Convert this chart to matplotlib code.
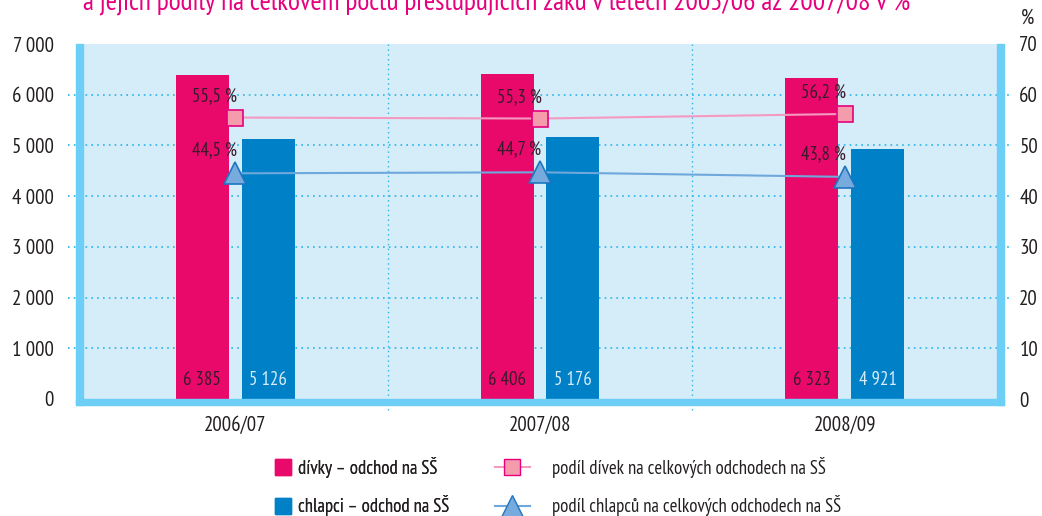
import matplotlib
matplotlib.use("Agg")
import matplotlib.pyplot as plt
from matplotlib.lines import Line2D
from matplotlib.patches import Rectangle

plt.rcParams['font.family'] = ['PT Sans Narrow', 'DejaVu Sans']

years = ["2006/07", "2007/08", "2008/09"]
divky = [6385, 6406, 6323]
chlapci = [5126, 5176, 4921]
podil_divky = [55.5, 55.3, 56.2]
podil_chlapci = [44.5, 44.7, 43.8]

pink = "#e8096b"
blue = "#0080c6"
bg = "#d5ecf9"
frame = "#6dcff6"
grid = "#29b6e8"
txt = "#231f20"


def cz(v):
    return f"{v:,}".replace(",", " ")


fig = plt.figure(figsize=(10.42, 5.16), dpi=100)
ax = fig.add_axes([83 / 1042, 1 - 399 / 516, 914 / 1042, 355 / 516])
ax.set_facecolor(bg)
for s in ax.spines.values():
    s.set_visible(False)

x = list(range(len(years)))
w = 0.174
off = 0.108
ax.bar([i - off for i in x], divky, w, color=pink, zorder=2)
ax.bar([i + off for i in x], chlapci, w, color=blue, zorder=2)
for i in x:
    ax.text(i - off, 370, cz(divky[i]), ha="center", va="center",
            fontsize=13.5, color="#3a1a2a", zorder=3)
    ax.text(i + off, 370, cz(chlapci[i]), ha="center", va="center",
            fontsize=13.5, color="#d8ecf9", zorder=3)

ax.set_ylim(0, 7000)
ax.set_xlim(-0.5, 2.5)
ax.set_yticks(range(0, 7001, 1000))
ax.set_yticklabels([cz(v) for v in range(0, 7001, 1000)])
ax.set_xticks(x)
ax.set_xticklabels(years)
ax.tick_params(axis="y", length=0, pad=21, labelsize=15, colors=txt)
ax.tick_params(axis="x", length=0, pad=12, labelsize=15, colors=txt)

for v in range(1000, 7000, 1000):
    ax.axhline(v, xmin=-0.016, xmax=1.017, color=grid, lw=1.2, ls=(0, (1, 2.5)),
               clip_on=False, zorder=1)
for v in [0.5, 1.5]:
    ax.axvline(v, ymin=-0.03, ymax=1, color=grid, lw=1.0, ls=(0, (1, 2.5)),
               clip_on=False, zorder=1)

# light blue frame (left, right, bottom)
ax.add_patch(Rectangle((-0.0077, -0.018), 0.0077, 1.018, transform=ax.transAxes,
                       color=frame, clip_on=False, zorder=4))
ax.add_patch(Rectangle((1.0, -0.018), 0.0077, 1.018, transform=ax.transAxes,
                       color=frame, clip_on=False, zorder=4))
ax.add_patch(Rectangle((-0.0077, -0.018), 1.0154, 0.018, transform=ax.transAxes,
                       color=frame, clip_on=False, zorder=4))

ax2 = ax.twinx()
for s in ax2.spines.values():
    s.set_visible(False)
ax2.set_ylim(0, 70)
ax2.set_yticks(range(0, 71, 10))
ax2.tick_params(axis="y", length=0, pad=16, labelsize=15, colors=txt)
ax2.plot(x, podil_divky, color="#f49ac1", lw=1.5, marker="s", markersize=12,
         markerfacecolor="#f59cac", markeredgecolor="#e6007e", markeredgewidth=1.2, zorder=5)
ax2.plot(x, podil_chlapci, color="#6fa8dc", lw=1.5, marker="^", markersize=16,
         markerfacecolor="#77aadd", markeredgecolor="#1f75c0", markeredgewidth=1.2, zorder=5)
for i in x:
    ax2.annotate(f"{podil_divky[i]:.1f} %".replace(".", ","), (i, podil_divky[i]),
                 xytext=(1, 9), textcoords="offset points", ha="right", va="bottom",
                 fontsize=13.5, color="#3a1a2a")
    ax2.annotate(f"{podil_chlapci[i]:.1f} %".replace(".", ","), (i, podil_chlapci[i]),
                 xytext=(1, 10), textcoords="offset points", ha="right", va="bottom",
                 fontsize=13.5, color="#3a1a2a")

fig.text(1027 / 1042, 1 - 18 / 516, "%", ha="center", va="center", fontsize=15, color=txt)
fig.text(497 / 1042, 1 - 10 / 516,
         "a jejich podíly na celkovém počtu přestupujících žáků v letech 2005/06 až 2007/08 v %",
         ha="center", va="baseline", fontsize=19.8, color="#e6007e")

h1 = [Line2D([], [], ls="none", marker="s", markersize=12, color=pink),
      Line2D([], [], ls="none", marker="s", markersize=12, color=blue)]
leg1 = fig.legend(h1, ["dívky – odchod na SŠ", "chlapci – odchod na SŠ"],
                  loc="upper left", bbox_to_anchor=(274 / 1042, 1 - 457 / 516),
                  frameon=False, fontsize=13.5, handlelength=1.0, handletextpad=0.3,
                  borderpad=0, borderaxespad=0, labelspacing=0.92, labelcolor=txt)
h2 = [Line2D([], [], color="#f49ac1", lw=1.5, marker="s", markersize=12,
             markerfacecolor="#f59cac", markeredgecolor="#e6007e"),
      Line2D([], [], color="#6fa8dc", lw=1.5, marker="^", markersize=16,
             markerfacecolor="#77aadd", markeredgecolor="#1f75c0")]
fig.legend(h2, ["podíl dívek na celkových odchodech na SŠ",
                "podíl chlapců na celkových odchodech na SŠ"],
           loc="upper left", bbox_to_anchor=(495 / 1042, 1 - 457 / 516),
           frameon=False, fontsize=13.5, handlelength=1.85, handletextpad=1.2,
           borderpad=0, borderaxespad=0, labelspacing=0.92, labelcolor=txt)
fig.add_artist(leg1)

fig.savefig("out.png", dpi=100)
